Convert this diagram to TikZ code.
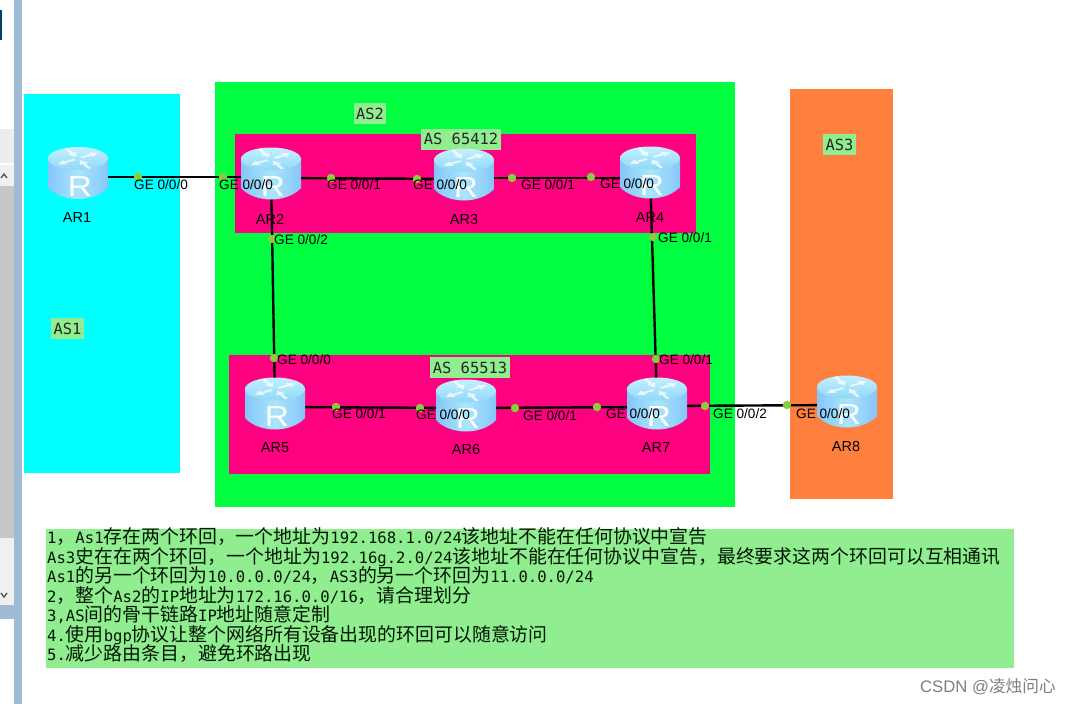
\documentclass[tikz,border=0pt]{standalone}
\usepackage{fontspec}
\setmainfont{Liberation Sans}
\newfontfamily\zh{Noto Sans CJK SC}
\newfontfamily\lat{DejaVu Sans Mono}
\newcommand{\zz}[1]{{\fontsize{18.9}{20}\zh #1}}
\definecolor{chrome}{HTML}{A0BBD6}
\definecolor{asone}{HTML}{00FFFF}
\definecolor{astwo}{HTML}{00FF40}
\definecolor{asthree}{HTML}{FF7F3F}
\definecolor{pinkarea}{HTML}{FF0080}
\definecolor{paleg}{HTML}{90EE90}
\definecolor{dotg}{HTML}{8CCB3C}
\definecolor{rside}{HTML}{86C6F8}
\definecolor{rmid}{HTML}{A9E6FC}
\definecolor{rtoplight}{HTML}{C4F0FF}
\definecolor{rtopdark}{HTML}{8FD8F6}
\tikzset{
  area/.style={fill=#1,draw=none},
  aslabel/.style={fill=paleg,inner xsep=2.5pt,inner ysep=0pt,minimum height=21pt,font=\fontsize{15.4}{18}\lat,text=black!85},
  link/.style={draw=black,line width=2.4pt},
  portdot/.style={circle,fill=dotg,draw=none,minimum size=8.5pt,inner sep=0pt},
  port/.style={anchor=base west,inner sep=0pt,font=\fontsize{13.6}{15}\selectfont,text=black},
  rname/.style={inner sep=0pt,font=\fontsize{14.5}{16}\selectfont,text=black},
  rbox/.style={minimum width=60pt,minimum height=53pt,inner sep=0pt,draw=none},
  noteline/.style={anchor=base west,inner sep=0pt,font=\fontsize{15.6}{18}\lat,text=black!85!green!60!black},
  rarrow/.style={fill=white,draw=none,opacity=.75}
}
% router icon drawn at a named node
\newcommand{\routericon}[1]{%
  \begin{scope}[shift={(#1.center)}]
    \path[left color=rside,right color=rside,middle color=rmid]
      (-30,-14) -- (-30,15) .. controls (-24,22) and (-12,26.5) .. (0,26.5)
      .. controls (12,26.5) and (24,22) .. (30,15) -- (30,-14) -- cycle;
    \path[top color=rtoplight,bottom color=rtopdark] (0,-14) ellipse [x radius=30pt,y radius=11.5pt];
    \foreach \r/\d in {30/1,120/-1,210/1,300/-1}{
      \begin{scope}[shift={(0,-14)},yscale=.5,rotate=\r]
        \ifnum\d=1
          \path[rarrow] (4,-1.7) -- (15,-1.7) -- (15,-5) -- (23,0) -- (15,5) -- (15,1.7) -- (4,1.7) -- cycle;
        \else
          \path[rarrow] (23,-1.7) -- (12,-1.7) -- (12,-5) -- (4,0) -- (12,5) -- (12,1.7) -- (23,1.7) -- cycle;
        \fi
      \end{scope}
    }
    \node[inner sep=0pt,text=white,font=\fontsize{29}{30}\selectfont,xscale=1.15] at (2,14) {R};
  \end{scope}}
\newcommand{\noteln}[3]{\node[noteline] (#1) at (47,#2) {#3};}
\begin{document}
\begin{tikzpicture}[x=1pt,y=-1pt]
\useasboundingbox (0,0) rectangle (1071,704);
\fill[white] (0,0) rectangle (1071,704);
% window chrome
\fill[chrome] (14,0) rectangle (22,704);
\fill[blue!35!cyan!40!black] (0,10) rectangle (2,40);
\fill[black!7] (0,129) rectangle (14,163);
\fill[black!6] (0,165) rectangle (14,186);
\fill[black!22] (0,186) rectangle (14,538);
\fill[black!6] (0,538) rectangle (14,605);
\fill[chrome] (0,605) rectangle (14,619);
\draw[black!65,line width=1.4pt] (1,178) -- (4,174) -- (7,178);
\draw[black!65,line width=1.4pt] (1,593) -- (4,597) -- (7,593);
% areas
\fill[area=asone] (24,94) rectangle (180,473);
\fill[area=astwo] (215,82) rectangle (735,507);
\fill[area=asthree] (790,89) rectangle (893,499);
\fill[area=pinkarea] (235,134) rectangle (696,233);
\fill[area=pinkarea] (229,355) rectangle (710,474);
\fill[area=paleg] (46,529) rectangle (1014,668);
% AS labels
\node[aslabel] (las2) at (370,113.5) {AS2};
\node[aslabel] (las1) at (67.5,328.5) {AS1};
\node[aslabel] (las3) at (839.5,144.5) {AS3};
\node[aslabel] (lasa) at (461,139) {AS 65412};
\node[aslabel] (lasb) at (470,367.5) {AS 65513};
% routers (placeholders first, icon after the links)
\node[rbox] (r1) at (78,172.5) {};
\node[rbox] (r2) at (271,173) {};
\node[rbox] (r3) at (464,174) {};
\node[rbox] (r4) at (650,172) {};
\node[rbox] (r5) at (275,403) {};
\node[rbox] (r6) at (466,405) {};
\node[rbox] (r7) at (657,403) {};
\node[rbox] (r8) at (847,401) {};
% links
\draw[link] ([yshift=-4.5pt]r1.center) -- ([yshift=-4pt]r2.center);
\draw[link] ([yshift=-5pt]r2.center) -- ([yshift=-5pt]r3.center);
\draw[link] ([yshift=-4pt]r3.center) -- ([yshift=-6pt]r4.center);
\draw[link] (r2.center) -- (r5.center);
\draw[link] (r4.center) -- (r7.center);
\draw[link] ([yshift=-4pt]r5.center) -- ([yshift=-3pt]r6.center);
\draw[link] ([yshift=-3pt]r6.center) -- ([yshift=-4pt]r7.center);
\draw[link] ([yshift=-3pt]r7.center) -- ([yshift=-4pt]r8.center);
% port dots
\foreach \n/\x/\y in {a/138/177,b/223/177,c/272/239,d/331/178,e/417/179,f/512/178,g/591/177,h/653/237,i/274/358,j/656/359,k/336/407,l/420/408,m/515/408,n/597/407,o/705/406,p/787/405}{
  \node[portdot] (d\n) at (\x,\y) {};
}
% icons
\routericon{r1}\routericon{r2}\routericon{r3}\routericon{r4}
\routericon{r5}\routericon{r6}\routericon{r7}\routericon{r8}
% router names
\node[rname] (n1) at (77,218) {AR1};
\node[rname] (n2) at (270,219) {AR2};
\node[rname] (n3) at (464,220) {AR3};
\node[rname] (n4) at (650,218) {AR4};
\node[rname] (n5) at (275,448) {AR5};
\node[rname] (n6) at (466,450) {AR6};
\node[rname] (n7) at (656,448) {AR7};
\node[rname] (n8) at (846,447) {AR8};
% port labels
\node[port] (pa) at (134,189) {GE 0/0/0};
\node[port] (pb) at (219,189) {GE 0/0/0};
\node[port] (pc) at (327,189) {GE 0/0/1};
\node[port] (pd) at (413,189) {GE 0/0/0};
\node[port] (pe) at (521,189) {GE 0/0/1};
\node[port] (pf) at (600,188) {GE 0/0/0};
\node[port] (pg) at (274,244) {GE 0/0/2};
\node[port] (ph) at (658,242) {GE 0/0/1};
\node[port] (pi) at (277,364) {GE 0/0/0};
\node[port] (pj) at (659,364) {GE 0/0/1};
\node[port] (pk) at (332,418) {GE 0/0/1};
\node[port] (pl) at (416,419) {GE 0/0/0};
\node[port] (pm) at (523,420) {GE 0/0/1};
\node[port] (pn) at (606,418) {GE 0/0/0};
\node[port] (po) at (713,418) {GE 0/0/2};
\node[port] (pp) at (796,418) {GE 0/0/0};
% notes
\noteln{t1}{543}{1\zz{，}As1\zz{存在两个环回，一个地址为}192.168.1.0/24\zz{该地址不能在任何协议中宣告}}
\noteln{t2}{563}{As3\zz{史在在两个环回，一个地址为}192.16g.2.0/24\zz{该地址不能在任何协议中宣告，最终要求这两个环回可以互相通讯}}
\noteln{t3}{582}{As1\zz{的另一个环回为}10.0.0.0/24\zz{，}AS3\zz{的另一个环回为}11.0.0.0/24}
\noteln{t4}{602}{2\zz{，整个}As2\zz{的}IP\zz{地址为}172.16.0.0/16\zz{，请合理划分}}
\noteln{t5}{621}{3,AS\zz{间的骨干链路}IP\zz{地址随意定制}}
\noteln{t6}{641}{4.\zz{使用}bgp\zz{协议让整个网络所有设备出现的环回可以随意访问}}
\noteln{t7}{660}{5.\zz{减少路由条目，避免环路出现}}
% watermark
\node[anchor=base east,inner sep=0pt,text=black!50,font=\fontsize{16.7}{18}\selectfont] (wm) at (1056,692) {CSDN @{\zh 凌烛问心}};
\end{tikzpicture}
\end{document}
